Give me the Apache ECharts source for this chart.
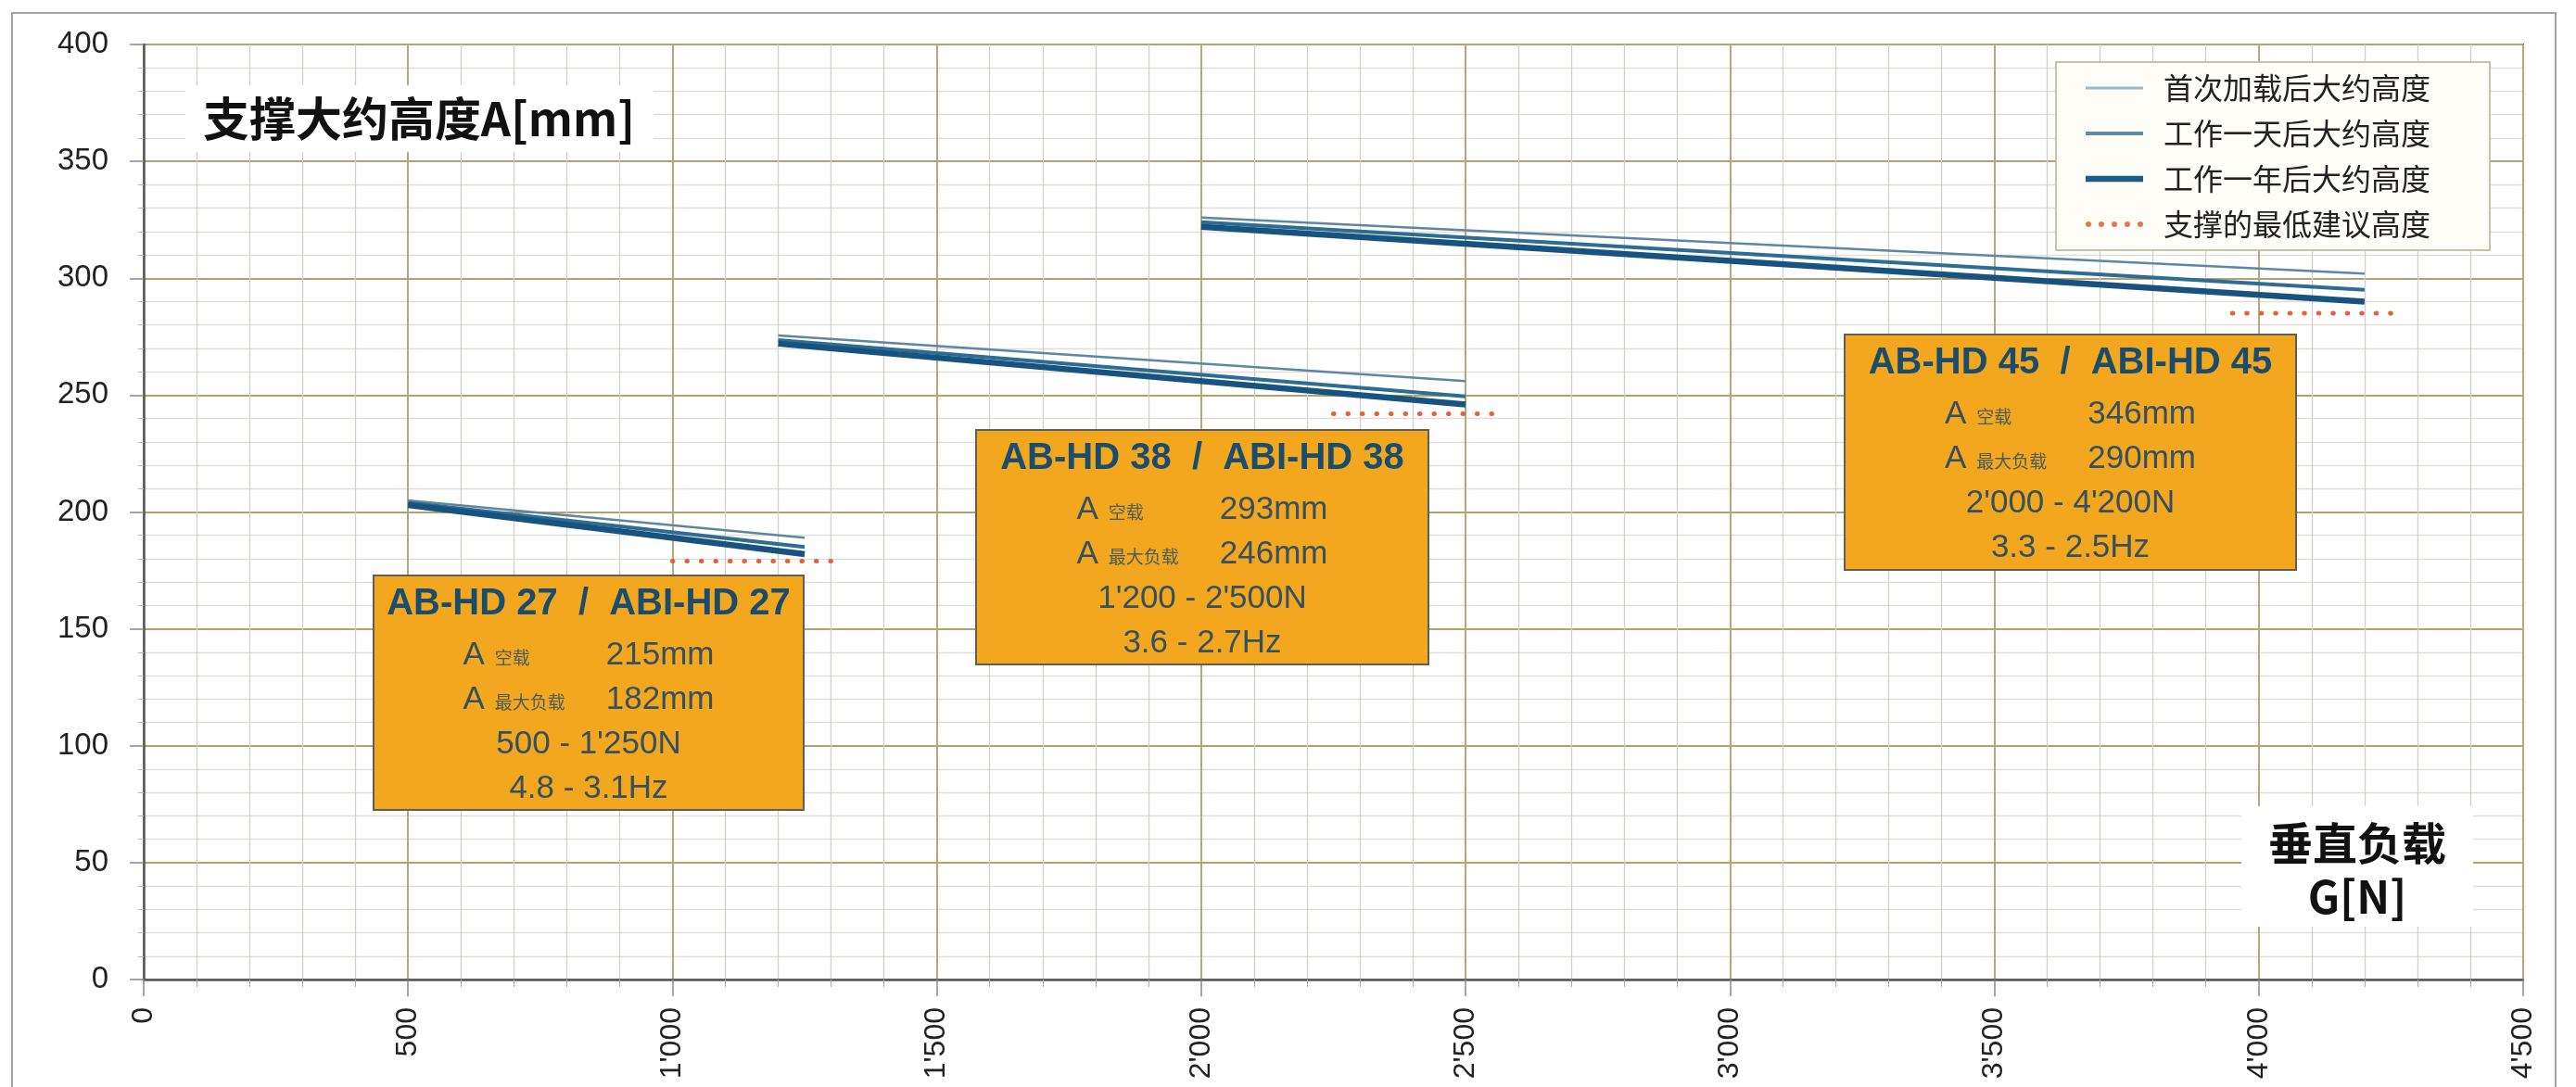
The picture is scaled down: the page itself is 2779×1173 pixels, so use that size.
<!DOCTYPE html>
<html>
<head>
<meta charset="utf-8">
<script src="https://cdn.jsdelivr.net/npm/echarts@6/dist/echarts.min.js"></script>
<style>
html,body{margin:0;padding:0;background:#fff;}
#chart{width:2779px;height:1173px;}
</style>
</head>
<body>
<div id="chart"></div>
<script>
// ---------- DATA ----------
const seriesNames = ['首次加载后大约高度', '工作一天后大约高度', '工作一年后大约高度', '支撑的最低建议高度'];
// each list: one segment per model group (27, 38, 45), points [load N, height mm]
const firstLoad = [[[500, 205], [1250, 189]], [[1200, 275.5], [2500, 256]], [[2000, 326], [4200, 302]]];
const oneDay    = [[[500, 204], [1250, 185]], [[1200, 273.5], [2500, 249.5]], [[2000, 324], [4200, 295]]];
const oneYear   = [[[500, 203], [1250, 182]], [[1200, 272], [2500, 246]], [[2000, 322], [4200, 290]]];
const minHeight = [[[1000, 179], [1300, 179]], [[2250, 242], [2550, 242]], [[3950, 285], [4250, 285]]];

const xTickLabels = ["0", "500", "1'000", "1'500", "2'000", "2'500", "3'000", "3'500", "4'000", "4'500"];
const yTickLabels = ['0', '50', '100', '150', '200', '250', '300', '350', '400'];

const modelNames    = ['AB-HD 27  /  ABI-HD 27', 'AB-HD 38  /  ABI-HD 38', 'AB-HD 45  /  ABI-HD 45'];
const emptyHeights  = ['215mm', '293mm', '346mm'];
const maxHeights    = ['182mm', '246mm', '290mm'];
const loadRangeText = ["500 - 1'250N", "1'200 - 2'500N", "2'000 - 4'200N"];
const freqText      = ['4.8 - 3.1Hz', '3.6 - 2.7Hz', '3.3 - 2.5Hz'];
const yAxisTitle = '支撑大约高度A[mm]';
const xAxisTitle = ['垂直负载', 'G[N]'];

// ---------- CHART ----------
const chart = echarts.init(document.getElementById('chart'), null, {renderer: 'canvas'});

const styles = [
  {color: '#5d86a3', width: 2.5, type: 'solid'},
  {color: '#2d6d93', width: 4, type: 'solid'},
  {color: '#18537f', width: 6.5, type: 'solid'},
  {color: '#e5603d', width: 5, type: [0.5, 15], cap: 'round'}
];
const allData = [firstLoad, oneDay, oneYear, minHeight];
const drawOrder = [3, 0, 1, 2];
const series = [];
drawOrder.forEach(function (k) {
  allData[k].forEach(function (seg) {
    series.push({
      type: 'line', name: seriesNames[k], data: seg, symbol: 'none', silent: true,
      lineStyle: styles[k], itemStyle: {color: styles[k].color}, z: 3 + k, animation: false
    });
  });
});

// legend icons
function dotsPath() {
  let p = 'path://';
  for (let i = 0; i < 5; i++) {
    const cx = 3 + i * 14;
    p += 'M' + (cx - 3) + ',3a3,3 0 1,0 6,0a3,3 0 1,0 -6,0';
  }
  return p;
}
const legendIcons = [
  {icon: 'path://M0,0L62,0L62,3L0,3Z', color: '#9ab7cb'},
  {icon: 'path://M0,0L62,0L62,4L0,4Z', color: '#5e8aa8'},
  {icon: 'path://M0,0L62,0L62,6.5L0,6.5Z', color: '#1d5a86'},
  {icon: dotsPath(), color: '#e4774f'}
];
const legendData = seriesNames.map(function (n, i) {
  return {name: n, icon: legendIcons[i].icon, itemStyle: {color: legendIcons[i].color, borderWidth: 0}};
});

const FONT_NUM = '"Liberation Sans Narrow", "Arial Narrow", "Liberation Sans", sans-serif';
const FONT_CJK = '"Noto Sans CJK SC", sans-serif';
const FONT_LAT = '"Liberation Sans", Arial, sans-serif';

// annotation boxes (pixel layout)
const boxes = [
  {x: 403, y: 621, w: 464, h: 253},
  {x: 1053, y: 464, w: 488, h: 253},
  {x: 1990, y: 361, w: 487, h: 254}
];
const graphics = [];
graphics.push({type: 'rect', shape: {x: 13, y: 14, width: 2744, height: 1200},
  style: {fill: 'none', stroke: '#a3a3a3', lineWidth: 2}, z: 0, silent: true});

const rowRich = {
  a: {fontSize: 35, fontFamily: FONT_LAT, fill: '#35505f', align: 'left'},
  s: {fontSize: 19, fontFamily: FONT_CJK, fill: '#4c5d56', width: 120, align: 'left', padding: [6, 0, 0, 11]},
  v: {fontSize: 35, fontFamily: FONT_LAT, fill: '#35505f', align: 'left'}
};
boxes.forEach(function (b, i) {
  const cx = b.x + b.w / 2;
  graphics.push({type: 'rect', shape: {x: b.x, y: b.y, width: b.w, height: b.h},
    style: {fill: '#f2a71f', stroke: '#5f5f55', lineWidth: 2}, z: 20, silent: true});
  graphics.push({type: 'text', x: cx, y: b.y + 31, z: 21, silent: true,
    style: {text: modelNames[i], fontSize: 40, fontWeight: 'bold', fontFamily: FONT_LAT,
      fill: '#1a4d6d', align: 'center', verticalAlign: 'middle'}});
  graphics.push({type: 'text', x: cx, y: b.y + 86, z: 21, silent: true,
    style: {text: '{a|A}{s|空载}{v|' + emptyHeights[i] + '}', rich: rowRich,
      align: 'center', verticalAlign: 'middle'}});
  graphics.push({type: 'text', x: cx, y: b.y + 134, z: 21, silent: true,
    style: {text: '{a|A}{s|最大负载}{v|' + maxHeights[i] + '}', rich: rowRich,
      align: 'center', verticalAlign: 'middle'}});
  graphics.push({type: 'text', x: cx, y: b.y + 182, z: 21, silent: true,
    style: {text: loadRangeText[i], fontSize: 35, fontFamily: FONT_LAT, fill: '#35505f',
      align: 'center', verticalAlign: 'middle'}});
  graphics.push({type: 'text', x: cx, y: b.y + 230, z: 21, silent: true,
    style: {text: freqText[i], fontSize: 35, fontFamily: FONT_LAT, fill: '#35505f',
      align: 'center', verticalAlign: 'middle'}});
});
// y title
graphics.push({type: 'rect', shape: {x: 200, y: 92, width: 505, height: 72},
  style: {fill: '#ffffff'}, z: 15, silent: true});
graphics.push({type: 'text', x: 452, y: 128, z: 16, silent: true,
  style: {text: yAxisTitle, fontSize: 50, fontWeight: 'bold', fontFamily: FONT_CJK,
    fill: '#111', align: 'center', verticalAlign: 'middle'}});
// x title
graphics.push({type: 'rect', shape: {x: 2418, y: 870, width: 250, height: 130},
  style: {fill: '#ffffff'}, z: 15, silent: true});
graphics.push({type: 'text', x: 2543, y: 910, z: 16, silent: true,
  style: {text: xAxisTitle[0], fontSize: 48, fontWeight: 'bold', fontFamily: FONT_CJK,
    fill: '#111', align: 'center', verticalAlign: 'middle'}});
graphics.push({type: 'text', x: 2543, y: 968, z: 16, silent: true,
  style: {text: xAxisTitle[1], fontSize: 48, fontWeight: 'bold', fontFamily: FONT_CJK,
    fill: '#111', align: 'center', verticalAlign: 'middle'}});

const option = {
  backgroundColor: '#ffffff',
  animation: false,
  grid: {left: 155, right: 57, top: 48, bottom: 116, show: true,
    borderColor: '#555', borderWidth: 2, backgroundColor: '#ffffff', containLabel: false},
  legend: {
    data: legendData, orient: 'vertical', left: 2218, top: 67,
    padding: [12, 64, 12, 32], itemWidth: 62, itemHeight: 30, itemGap: 17,
    backgroundColor: '#fffdf8', borderColor: '#c7c0ab', borderWidth: 2, borderRadius: 0,
    selectedMode: false, z: 30,
    textStyle: {fontSize: 32, fontFamily: FONT_CJK, color: '#222', padding: [0, 0, 0, 17]}
  },
  xAxis: {
    type: 'value', min: 0, max: 4500, interval: 500,
    axisLine: {show: true, onZero: false, lineStyle: {color: '#555', width: 2.5}},
    axisTick: {show: true, length: 18, lineStyle: {color: '#888', width: 1.5}},
    minorTick: {show: true, splitNumber: 5, length: 8, lineStyle: {color: '#aaa', width: 1}},
    splitLine: {show: true, lineStyle: {color: '#b8a67e', width: 2}},
    minorSplitLine: {show: true, lineStyle: {color: '#cfcfcb', width: 1.3}},
    axisLabel: {rotate: 90, margin: 30, fontSize: 32, fontFamily: FONT_NUM, color: '#222',
      formatter: function (v) { return xTickLabels[Math.round(v / 500)]; }}
  },
  yAxis: {
    type: 'value', min: 0, max: 400, interval: 50,
    axisLine: {show: true, onZero: false, lineStyle: {color: '#555', width: 2.5}},
    axisTick: {show: true, length: 15, lineStyle: {color: '#888', width: 1.5}},
    minorTick: {show: true, splitNumber: 5, length: 6, lineStyle: {color: '#bbb', width: 1}},
    splitLine: {show: true, lineStyle: {color: '#b3a170', width: 2.2}},
    minorSplitLine: {show: true, lineStyle: {color: '#e0ded6', width: 1.3}},
    axisLabel: {margin: 38, fontSize: 33, fontFamily: FONT_NUM, color: '#222',
      formatter: function (v) { return yTickLabels[Math.round(v / 50)]; }}
  },
  series: series,
  graphic: graphics
};
chart.setOption(option);
</script>
</body>
</html>
